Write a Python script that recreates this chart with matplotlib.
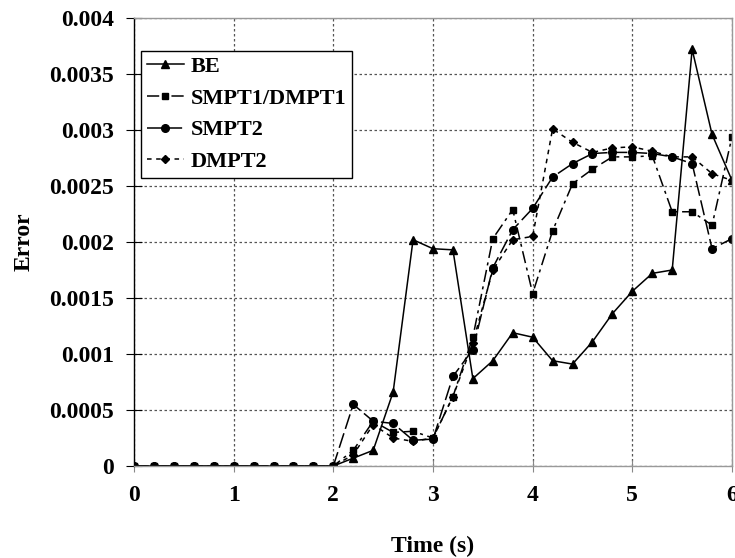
import matplotlib
matplotlib.use("Agg")
import matplotlib.pyplot as plt
from matplotlib.ticker import FixedLocator

time = [round(0.2 * i, 1) for i in range(31)]

be = [0, 0, 0, 0, 0, 0, 0, 0, 0, 0, 0,
      0.00007, 0.00014, 0.00066, 0.00202, 0.00194, 0.00193, 0.00078, 0.00094, 0.00119, 0.00115,
      0.00094, 0.00091, 0.00111, 0.00136, 0.00156, 0.00172, 0.00175, 0.00372, 0.00296, 0.00255]
smpt1 = [0, 0, 0, 0, 0, 0, 0, 0, 0, 0, 0,
         0.00014, 0.00040, 0.00030, 0.00031, 0.00025, 0.00062, 0.00115, 0.00203, 0.00229, 0.00154,
         0.00210, 0.00252, 0.00265, 0.00276, 0.00276, 0.00277, 0.00227, 0.00227, 0.00215, 0.00294]
smpt2 = [0, 0, 0, 0, 0, 0, 0, 0, 0, 0, 0,
         0.00055, 0.00040, 0.00038, 0.00023, 0.00024, 0.00080, 0.00104, 0.00177, 0.00211, 0.00230,
         0.00258, 0.00270, 0.00279, 0.00280, 0.00280, 0.00279, 0.00276, 0.00270, 0.00194, 0.00203]
dmpt2 = [0, 0, 0, 0, 0, 0, 0, 0, 0, 0, 0,
         0.00010, 0.00037, 0.00025, 0.00022, 0.00025, 0.00062, 0.00110, 0.00175, 0.00202, 0.00205,
         0.00301, 0.00289, 0.00280, 0.00284, 0.00285, 0.00281, 0.00276, 0.00276, 0.00261, 0.00255]

labels = ["BE", "SMPT1/DMPT1", "SMPT2", "DMPT2"]
xticks = [0, 1, 2, 3, 4, 5, 6]
yticks = [0, 0.0005, 0.001, 0.0015, 0.002, 0.0025, 0.003, 0.0035, 0.004]
ytick_labels = ["0", "0.0005", "0.001", "0.0015", "0.002", "0.0025", "0.003", "0.0035", "0.004"]

plt.rcParams['font.family'] = ['Liberation Serif', 'DejaVu Serif']
plt.rcParams['font.weight'] = 'bold'

fig = plt.figure(figsize=(7.35, 5.58), dpi=100)
ax = fig.add_axes([134/735, 1 - 466/558, (732 - 134)/735, (466 - 18)/558])

ax.plot(time, be, color='black', lw=1.1, ls='-', marker='^', ms=5.5, label=labels[0])
ax.plot(time, smpt1, color='black', lw=1.1, ls=(0, (8, 3, 2, 3)), marker='s', ms=5, label=labels[1])
ax.plot(time, smpt2, color='black', lw=1.1, ls=(0, (10, 3)), marker='o', ms=5.5, label=labels[2])
ax.plot(time, dmpt2, color='black', lw=1.1, ls=(0, (3, 3)), marker='D', ms=4.5, label=labels[3])

ax.set_xlim(0, 6)
ax.set_ylim(0, 0.004)
ax.xaxis.set_major_locator(FixedLocator(xticks))
ax.yaxis.set_major_locator(FixedLocator(yticks))
ax.set_yticklabels(ytick_labels)
ax.set_xticklabels([str(t) for t in xticks])

ax.grid(True, color='#555555', ls=(0, (2, 2)), lw=0.9)
for s in ['top', 'right', 'bottom']:
    ax.spines[s].set_color('#999999')
    ax.spines[s].set_linewidth(1.0)
ax.spines['left'].set_color('black')
ax.spines['left'].set_linewidth(1.0)
ax.tick_params(axis='x', direction='inout', length=8, color='#888888', labelsize=17, pad=10)
ax.tick_params(axis='y', direction='inout', length=11, color='black', labelsize=17, pad=9)
for lbl in ax.get_xticklabels() + ax.get_yticklabels():
    lbl.set_fontweight('bold')

ax.set_xlabel("Time (s)", fontsize=17, fontweight='bold', labelpad=21)
ax.set_ylabel("Error", fontsize=17, fontweight='bold', labelpad=10)

leg = ax.legend(loc='upper left', bbox_to_anchor=(7/598, 1 - 33/448), fancybox=False,
                edgecolor='black', framealpha=1, prop={'weight': 'bold', 'size': 16},
                handlelength=1.7, borderpad=0.25, labelspacing=0.5, handletextpad=0.3,
                borderaxespad=0)
leg.get_frame().set_linewidth(1.0)

fig.savefig("out.png", dpi=100)
